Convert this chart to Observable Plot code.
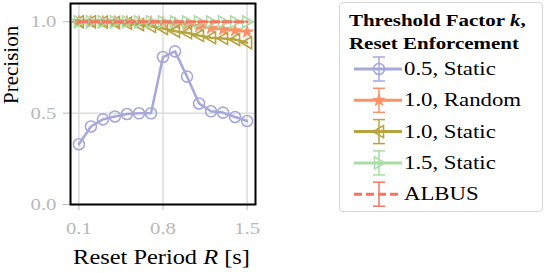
<!DOCTYPE html>
<html>
<head>
<meta charset="utf-8">
<script src="https://cdn.jsdelivr.net/npm/d3@7"></script>
<script src="https://cdn.jsdelivr.net/npm/@observablehq/plot@0.6"></script>
<style>
  html, body { margin: 0; padding: 0; background: #fff; }
  #wrap { position: relative; width: 545px; height: 273px; font-family: "Liberation Serif", serif; }
  #legend { position: absolute; left: 339px; top: 2px; width: 204px; height: 210px; border: 1.5px solid #d6d6d6; border-radius: 4px; box-sizing: border-box; background: #fff; }
</style>
</head>
<body>
<div id="wrap"></div>
<script>
const periods = [0.1, 0.2, 0.3, 0.4, 0.5, 0.6, 0.7, 0.8, 0.9, 1.0, 1.1, 1.2, 1.3, 1.4, 1.5];
const k05Static = [0.33, 0.427, 0.466, 0.482, 0.495, 0.499, 0.499, 0.807, 0.838, 0.70, 0.553, 0.51, 0.503, 0.479, 0.457];
const k10Random = [1.0, 1.0, 1.0, 1.0, 1.0, 0.998, 0.997, 0.995, 0.99, 0.985, 0.975, 0.965, 0.958, 0.952, 0.945];
const k10Static = [1.0, 1.0, 0.998, 0.996, 0.992, 0.985, 0.975, 0.963, 0.948, 0.94, 0.925, 0.913, 0.909, 0.903, 0.885];
const k15Static = [1.0, 1.0, 1.0, 1.0, 1.0, 1.0, 1.0, 1.0, 1.0, 1.0, 1.0, 1.0, 1.0, 1.0, 1.0];
const albus = [1.0, 1.0, 1.0, 1.0, 1.0, 1.0, 1.0, 1.0, 1.0, 1.0, 1.0, 1.0, 1.0, 1.0, 1.0];
const seriesNames = ["0.5, Static", "1.0, Random", "1.0, Static", "1.5, Static", "ALBUS"];
const colors = ["#a7a8da", "#fc9166", "#b6a43e", "#a9dca6", "#f9735f"];
const xTicks = [0.1, 0.8, 1.5];
const yTicks = [0.0, 0.5, 1.0];

const toRows = vals => periods.map((p, i) => ({x: p, y: vals[i]}));

const triLeft = {draw(ctx, size) { const r = Math.sqrt(size / Math.PI); ctx.moveTo(-r, 0); ctx.lineTo(r * 0.75, -r); ctx.lineTo(r * 0.75, r); ctx.closePath(); }};
const triRight = {draw(ctx, size) { const r = Math.sqrt(size / Math.PI); ctx.moveTo(r, 0); ctx.lineTo(-r * 0.75, -r); ctx.lineTo(-r * 0.75, r); ctx.closePath(); }};

const font = "Liberation Serif, serif";
const gridColor = "#dcdcdc";
const tickColor = "#b9b9b9";
const SX = 1.22; // horizontal widening to mimic Computer Modern proportions
const fmt = d3.format(".1f");

const chart = Plot.plot({
  width: 545, height: 273,
  marginLeft: 70, marginRight: 290, marginTop: 3, marginBottom: 69,
  style: {fontFamily: font, fontSize: "16px", background: "transparent"},
  x: {domain: [0.03, 1.57], ticks: xTicks, tickFormat: () => "", label: null},
  y: {domain: [0, 1.1], ticks: yTicks, tickFormat: () => "", label: null},
  marks: [
    Plot.gridX(xTicks, {stroke: gridColor, strokeOpacity: 1, strokeWidth: 1.5}),
    Plot.gridY(yTicks, {stroke: gridColor, strokeOpacity: 1, strokeWidth: 1.5}),
    Plot.axisX({ticks: xTicks, tickFormat: () => "", stroke: tickColor, tickSize: 6}),
    Plot.axisY({ticks: yTicks, tickFormat: () => "", stroke: tickColor, tickSize: 7}),
    Plot.text(xTicks, {x: d => d, frameAnchor: "bottom", dy: 17, lineAnchor: "top", text: d => fmt(d), fill: tickColor, fontSize: 17, fontFamily: font}),
    Plot.text(yTicks, {y: d => d, frameAnchor: "left", dx: -14, textAnchor: "end", text: d => fmt(d), fill: tickColor, fontSize: 17, fontFamily: font}),
    Plot.line(toRows(k05Static), {x: "x", y: "y", stroke: colors[0], strokeWidth: 2.5}),
    Plot.dot(toRows(k05Static), {x: "x", y: "y", stroke: colors[0], r: 5.5, strokeWidth: 1.6, fill: "none"}),
    Plot.line(toRows(k10Random), {x: "x", y: "y", stroke: colors[1], strokeWidth: 2.5}),
    Plot.dot(toRows(k10Random), {x: "x", y: "y", stroke: colors[1], fill: colors[1], symbol: "star", r: 3.5, strokeWidth: 1.2}),
    Plot.line(toRows(k10Static), {x: "x", y: "y", stroke: colors[2], strokeWidth: 2.5}),
    Plot.dot(toRows(k10Static), {x: "x", y: "y", stroke: colors[2], symbol: triLeft, r: 6, strokeWidth: 1.6, fill: "none"}),
    Plot.line(toRows(k15Static), {x: "x", y: "y", stroke: colors[3], strokeWidth: 2.5}),
    Plot.dot(toRows(k15Static), {x: "x", y: "y", stroke: colors[3], symbol: triRight, r: 6, strokeWidth: 1.6, fill: "none"}),
    Plot.line(toRows(albus), {x: "x", y: "y", stroke: colors[4], strokeWidth: 3, strokeDasharray: "8,4"}),
    Plot.frame({stroke: "black", strokeWidth: 2}),
    Plot.text(["Precision"], {frameAnchor: "left", dx: -59, rotate: -90, text: d => d, fontSize: 21, fill: "black", fontFamily: font})
  ]
});
document.getElementById("wrap").appendChild(chart);
const svg = d3.select(chart);

// widen tick labels to mimic Computer Modern proportions
svg.selectAll("text").each(function() {
  if (/^\d\.\d$/.test(this.textContent.trim())) {
    const tr = this.getAttribute("transform") || "";
    this.setAttribute("transform", `${tr} scale(${SX},1)`);
  }
});

// x-axis label with italic R
const xl = svg.append("text").attr("transform", `translate(161.5,264) scale(${SX},1)`).attr("text-anchor", "middle")
  .attr("font-family", font).attr("font-size", 20).attr("fill", "black");
xl.append("tspan").text("Reset Period ");
xl.append("tspan").attr("font-style", "italic").text("R");
xl.append("tspan").text(" [s]");

// legend
const leg = d3.select("#wrap").append("div").attr("id", "legend");
const ls = leg.append("svg").attr("width", 204).attr("height", 210).style("position", "absolute").style("left", "-1.5px").style("top", "-1.5px");
const t1 = ls.append("text").attr("transform", `translate(10,24) scale(1.27,1)`).attr("font-family", font).attr("font-weight", "bold").attr("font-size", 16.5).attr("fill", "black");
t1.append("tspan").text("Threshold Factor ");
t1.append("tspan").attr("font-style", "italic").text("k");
t1.append("tspan").text(",");
ls.append("text").attr("transform", `translate(10,47) scale(1.27,1)`).attr("font-family", font).attr("font-weight", "bold").attr("font-size", 16.5).attr("fill", "black").text("Reset Enforcement");
const shapes = ["circle", "star", "left", "right", "none"];
seriesNames.forEach((name, i) => {
  const cy = 67 + i * 31.3;
  const g = ls.append("g");
  const c = colors[i];
  g.append("line").attr("x1", 15).attr("x2", 63).attr("y1", cy).attr("y2", cy).attr("stroke", c).attr("stroke-width", 3).attr("stroke-dasharray", i === 4 ? "8,4" : null);
  g.append("line").attr("x1", 40).attr("x2", 40).attr("y1", cy - 12).attr("y2", cy + 12).attr("stroke", c).attr("stroke-width", 1.5);
  g.append("line").attr("x1", 34).attr("x2", 46).attr("y1", cy - 12).attr("y2", cy - 12).attr("stroke", c).attr("stroke-width", 1.5);
  g.append("line").attr("x1", 34).attr("x2", 46).attr("y1", cy + 12).attr("y2", cy + 12).attr("stroke", c).attr("stroke-width", 1.5);
  const sym = shapes[i];
  if (sym === "circle") g.append("circle").attr("cx", 40).attr("cy", cy).attr("r", 5.5).attr("fill", "none").attr("stroke", c).attr("stroke-width", 1.6);
  if (sym === "star") g.append("path").attr("transform", `translate(40,${cy})`).attr("d", d3.symbol(d3.symbolStar, 45)()).attr("fill", c).attr("stroke", c);
  if (sym === "left") g.append("path").attr("transform", `translate(40,${cy})`).attr("d", "M-6,0L4.5,-6L4.5,6Z").attr("fill", "none").attr("stroke", c).attr("stroke-width", 1.6);
  if (sym === "right") g.append("path").attr("transform", `translate(40,${cy})`).attr("d", "M6,0L-4.5,-6L-4.5,6Z").attr("fill", "none").attr("stroke", c).attr("stroke-width", 1.6);
  ls.append("text").attr("transform", `translate(65,${cy + 6}) scale(1.2,1)`).attr("font-family", font).attr("font-size", 19).attr("fill", "black").text(name);
});
</script>
</body>
</html>
